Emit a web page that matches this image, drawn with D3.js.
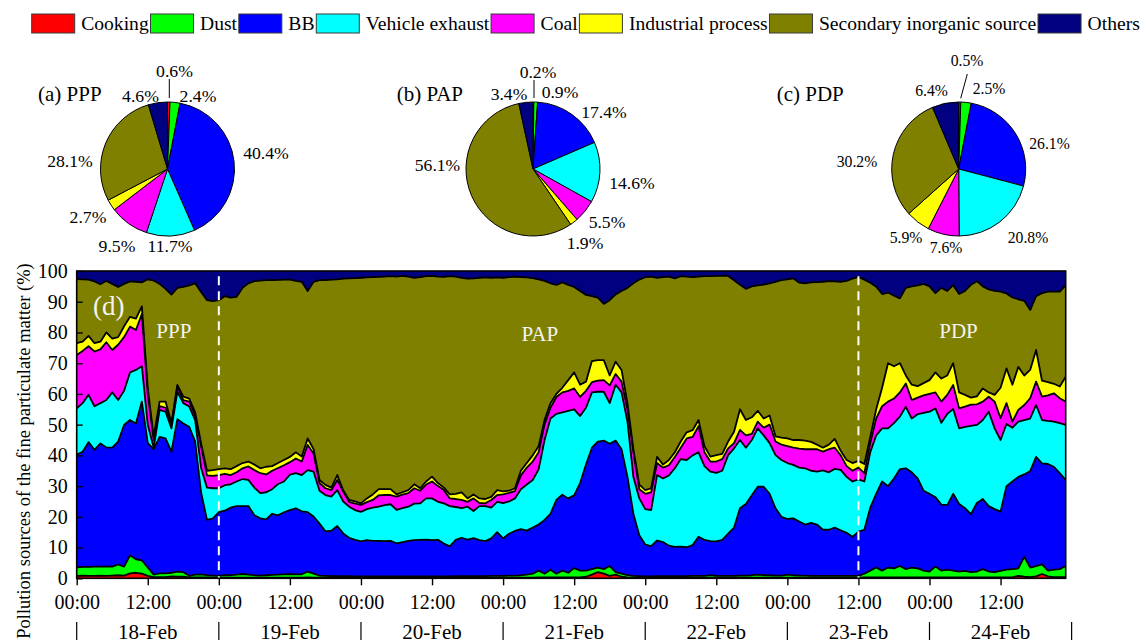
<!DOCTYPE html>
<html>
<head>
<meta charset="utf-8">
<script src="https://cdn.jsdelivr.net/npm/d3@7"></script>
<style>
  body { margin: 0; background: #fff; }
  svg { display: block; font-family: "Liberation Serif", "Times New Roman", Times, serif; }
</style>
</head>
<body>
<svg id="chart" width="1145" height="642"></svg>
<script>
// ---- Source categories ----
const sources = ["Cooking", "Dust", "BB", "Vehicle exhaust", "Coal",
  "Industrial process", "Secondary inorganic source", "Others"];
const colors = ["#ff0000", "#00ff00", "#0000ff", "#00ffff", "#ff00ff",
  "#ffff00", "#808000", "#000080"];

// ---- Period averages (%) for the three pie charts ----
const pieTitles = ["(a) PPP", "(b) PAP", "(c) PDP"];
const pppShare = [0.6, 2.4, 40.4, 11.7, 9.5, 2.7, 28.1, 4.6];
const papShare = [0.2, 0.9, 17.4, 14.6, 5.5, 1.9, 56.1, 3.4];
const pdpShare = [0.5, 2.5, 26.1, 20.8, 7.6, 5.9, 30.2, 6.4];

// ---- Axis labels ----
const clockLabels = ["00:00", "12:00"];
const dayLabels = ["18-Feb", "19-Feb", "20-Feb", "21-Feb", "22-Feb", "23-Feb", "24-Feb"];
const periodNames = ["PPP", "PAP", "PDP"];

// ---- Hourly source contributions (%), 18-Feb 00:00 to 24-Feb 23:00 ----
const cooking = [
  0.8,0.9,0.8,0.8,0.9,0.8,0.9,1.0,0.9,1.6,1.8,1.5,
  0.8,0.4,0.4,0.4,0.6,0.5,0.5,0.3,0.3,0.3,0.3,0.2,
  0.2,0.2,0.2,0.2,0.2,0.2,0.2,0.2,0.2,0.2,0.2,0.2,
  0.2,0.2,0.2,0.3,0.2,0.2,0.2,0.2,0.2,0.2,0.2,0.2,
  0.2,0.2,0.2,0.2,0.2,0.2,0.2,0.2,0.2,0.2,0.2,0.2,
  0.2,0.2,0.2,0.2,0.2,0.2,0.2,0.2,0.2,0.2,0.2,0.2,
  0.2,0.2,0.2,0.2,0.2,0.2,0.3,0.3,0.3,0.3,0.3,0.3,
  0.3,0.3,0.5,1.2,2.0,1.5,0.8,1.2,0.5,0.3,0.2,0.2,
  0.2,0.2,0.2,0.2,0.2,0.2,0.2,0.2,0.2,0.2,0.2,0.2,
  0.2,0.2,0.2,0.2,0.2,0.2,0.2,0.2,0.2,0.2,0.2,0.2,
  0.2,0.2,0.2,0.2,0.2,0.2,0.2,0.2,0.2,0.2,0.2,0.2,
  0.2,0.3,0.3,0.3,0.3,0.3,0.3,0.3,0.3,0.3,0.3,0.3,
  0.3,0.3,0.3,0.3,0.3,0.3,0.3,0.3,0.3,0.3,0.3,0.3,
  0.3,0.3,0.3,0.8,0.5,0.4,0.6,1.4,0.6,0.4,0.4,0.4
];
const dust = [
  2.8,2.8,2.9,3.0,2.9,3.1,2.9,3.5,2.9,5.9,4.4,4.3,
  2.7,0.8,1.2,1.2,1.2,1.7,1.5,0.5,0.9,1.0,0.7,0.7,
  0.6,0.8,0.8,1.0,1.2,1.0,0.8,0.7,0.8,0.9,1.0,1.1,
  1.2,1.1,1.1,1.9,1.3,0.7,0.6,0.5,0.5,0.5,0.5,0.4,
  0.4,0.4,0.4,0.4,0.4,0.4,0.4,0.4,0.4,0.4,0.4,0.4,
  0.4,0.4,0.4,0.4,0.5,0.5,0.5,0.5,0.5,0.5,0.6,0.6,
  0.6,0.7,0.7,0.8,1.0,1.3,2.2,1.2,2.5,1.2,2.2,1.5,
  3.0,2.2,2.0,1.8,1.5,1.5,3.2,0.8,1.0,0.7,0.6,0.5,
  0.4,0.4,0.5,0.5,0.5,0.5,0.5,0.5,0.6,0.6,0.6,0.8,
  0.6,0.6,0.6,0.6,0.7,0.7,0.8,1.0,0.8,0.8,0.7,0.7,
  1.0,0.8,0.7,0.7,0.6,0.6,0.6,0.6,0.6,0.6,0.6,0.6,
  0.6,1.2,2.2,3.2,2.2,3.2,2.9,3.7,2.7,3.2,2.9,2.2,
  1.9,3.5,2.2,2.5,2.2,1.9,2.1,1.7,1.9,2.7,1.9,1.7,
  2.1,2.5,2.7,2.4,6.5,3.1,3.4,3.1,1.9,2.4,2.6,3.6
];
const bb = [
  36.7,37.5,40.6,38.0,40.1,38.7,38.7,40.0,46.1,44.0,44.2,51.7,
  40.5,40.8,44.4,43.9,39.4,49.6,48.4,48.5,43.3,26.7,18.0,18.6,
  20.7,21.0,22.0,22.3,22.1,22.3,19.5,18.6,18.2,19.9,19.3,20.2,
  20.8,21.5,20.5,19.3,18.6,16.9,14.5,14.8,16.3,13.9,12.5,11.9,
  11.4,11.8,11.6,11.6,11.5,11.6,10.8,11.2,11.6,11.8,11.9,12.0,
  11.8,11.9,10.7,9.8,11.8,12.5,11.9,12.4,11.7,11.4,12.2,14.2,
  12.2,13.6,14.5,15.0,14.3,15.0,15.0,17.5,18.2,24.0,24.7,24.2,
  23.7,28.5,34.5,39.5,41.0,41.8,39.8,42.8,40.5,32.0,20.2,13.3,
  10.4,9.9,11.6,11.1,9.9,9.5,9.6,9.4,10.0,12.7,11.7,11.1,
  11.2,11.7,13.7,15.7,21.9,23.3,26.0,28.6,28.8,26.5,21.9,19.1,
  18.1,18.5,17.6,16.6,17.2,16.7,15.0,15.0,15.7,14.8,14.0,12.7,
  14.4,14.3,20.5,24.0,29.0,26.5,29.3,31.5,32.8,31.0,29.3,26.0,
  25.3,22.6,21.5,21.0,25.0,22.0,20.4,18.9,22.3,22.8,21.3,20.5,
  19.3,27.2,28.5,29.8,26.8,31.4,35.5,32.9,34.7,33.5,31.2,28.0
];
const vehicle = [
  15.0,15.8,15.4,14.2,13.1,15.4,18.0,13.5,11.1,15.5,17.4,11.5,
  6.0,0.5,8.8,8.7,7.6,8.9,6.6,6.6,7.0,8.0,10.5,9.8,
  7.8,8.3,7.6,8.0,8.8,8.5,9.0,8.2,8.8,8.0,10.2,10.0,
  11.5,11.4,11.8,13.7,14.6,10.7,11.8,11.1,11.7,10.4,10.1,9.7,
  9.6,10.1,10.8,11.1,11.7,11.9,10.9,11.0,11.1,11.9,11.9,13.4,
  13.6,12.4,13.1,13.1,10.7,9.6,10.7,8.8,11.1,11.4,10.0,9.9,
  11.5,10.5,10.6,13.0,15.0,15.5,18.0,26.0,31.0,28.0,26.8,28.5,
  28.0,21.8,18.5,18.0,16.2,15.9,13.2,18.2,18.5,18.0,12.0,12.0,
  11.5,11.7,21.3,20.7,22.9,25.6,28.5,28.4,29.2,27.5,24.0,22.6,
  22.3,22.5,25.6,25.8,22.2,18.3,18.0,19.0,16.7,16.5,17.3,18.5,
  18.2,17.4,17.5,18.3,17.0,17.2,19.3,18.7,19.1,19.7,18.2,18.0,
  17.0,15.7,18.0,19.0,17.3,18.8,18.0,17.1,20.0,17.5,20.9,25.3,
  26.7,28.9,26.6,29.7,27.6,24.6,26.5,28.7,25.4,25.7,30.7,26.3,
  23.3,20.2,17.5,18.0,17.7,17.1,16.9,14.1,14.0,14.7,16.3,17.9
];
const coal = [
  17.4,17.0,15.8,17.8,17.5,18.8,13.8,18.0,17.5,14.9,13.0,17.0,
  10.0,2.5,1.2,1.3,1.2,1.8,1.0,1.6,1.5,7.0,4.0,4.0,
  4.3,3.7,3.0,3.0,3.5,4.4,5.7,6.5,5.8,6.0,5.2,5.3,
  4.1,4.8,4.4,8.2,5.8,2.5,2.2,2.1,3.3,3.2,1.6,2.1,
  2.3,2.3,2.5,3.7,3.3,3.0,4.3,4.4,4.4,5.0,4.1,4.5,
  5.5,5.1,4.3,2.5,2.6,2.7,1.6,4.1,1.0,0.9,2.5,2.2,
  2.8,2.8,2.4,4.5,5.5,6.0,5.5,5.0,3.5,5.5,6.5,6.5,
  6.8,6.2,5.5,3.3,3.6,3.8,5.8,3.5,3.5,4.0,8.0,3.0,
  5.0,5.8,3.9,3.5,3.3,3.7,3.7,7.0,6.0,8.5,4.5,3.3,
  3.7,3.8,2.2,1.7,3.3,4.0,2.0,2.2,2.5,6.0,4.4,5.0,
  5.5,5.6,6.2,6.2,7.0,7.3,6.1,7.5,6.9,4.7,3.5,3.5,
  3.8,2.7,3.0,5.5,7.2,8.7,8.0,7.9,7.6,6.0,5.4,5.7,
  5.8,5.2,6.9,6.2,7.8,6.5,6.6,6.9,6.7,6.0,4.9,8.7,
  7.1,6.8,2.0,3.8,4.9,6.6,7.6,7.6,8.3,9.2,8.1,7.6
];
const industrial = [
  3.8,3.0,3.4,2.7,2.5,3.2,3.7,2.5,3.5,3.2,3.7,2.5,
  2.0,1.0,1.5,2.0,0.5,0.4,1.1,1.0,1.0,1.0,1.5,1.9,
  1.9,1.8,1.9,2.0,1.7,1.6,1.8,1.6,2.5,1.5,1.6,1.7,
  1.7,2.0,1.6,2.1,1.5,1.0,1.1,0.8,1.6,0.5,0.6,0.7,
  0.5,1.2,1.8,2.0,1.9,1.9,0.7,0.8,1.0,1.3,0.8,1.0,
  1.6,1.0,0.8,1.3,1.7,2.5,1.1,1.3,1.5,1.4,1.0,1.6,
  1.0,0.7,0.9,1.5,1.5,2.0,2.0,1.5,1.5,1.0,1.5,3.5,
  5.2,4.0,3.0,6.9,6.7,6.5,3.2,4.0,3.8,2.0,1.0,1.5,
  1.2,1.3,2.0,1.0,1.7,1.5,2.0,2.0,2.2,2.0,2.0,1.6,
  2.1,1.7,2.2,3.7,6.7,5.0,5.4,3.5,3.0,3.0,1.7,2.3,
  2.5,2.5,2.8,2.8,2.4,1.5,1.3,1.5,2.9,1.5,2.0,2.5,
  2.2,3.0,2.0,3.0,6.0,12.5,10.5,9.5,2.6,5.0,3.7,4.0,
  4.5,6.5,7.5,6.3,7.1,5.2,3.8,2.3,2.6,4.3,1.4,2.2,
  9.9,11.3,12.0,14.0,9.6,9.2,10.3,5.2,4.3,3.1,3.8,8.1
];
const secondary = [
  20.9,20.3,18.3,20.1,18.7,16.8,17.8,16.3,13.8,11.5,12.0,7.8,
  35.3,50.9,38.3,36.7,41.8,31.6,35.7,36.8,42.0,49.2,55.5,55.0,
  55.0,56.0,55.8,55.1,57.0,58.0,59.7,61.1,60.7,60.5,59.6,58.7,
  57.7,55.8,56.9,48.0,54.5,65.0,66.6,67.7,63.7,68.8,72.1,72.7,
  73.4,71.9,70.7,69.1,69.2,69.3,70.9,70.4,69.5,67.2,68.7,66.8,
  65.3,67.2,68.6,71.0,70.7,69.8,71.5,70.3,71.8,72.1,71.3,69.2,
  69.5,69.5,68.9,63.0,60.4,57.7,54.3,45.3,39.0,35.5,34.3,31.0,
  27.8,30.5,28.2,21.1,20.3,18.3,24.5,21.9,25.7,37.5,54.0,66.7,
  69.3,68.9,58.3,61.0,59.7,56.6,53.8,50.7,49.8,46.7,55.3,58.7,
  58.3,58.0,53.9,49.3,40.5,42.7,42.6,40.8,43.6,43.0,50.3,51.2,
  51.8,52.6,51.2,51.2,51.9,52.9,54.0,53.2,51.2,55.0,58.3,60.0,
  59.9,60.0,50.2,39.9,30.5,23.0,23.0,21.1,28.5,32.0,32.8,32.3,
  30.5,25.8,29.5,27.5,25.4,32.0,33.8,36.7,37.5,33.2,33.5,33.8,
  31.3,24.4,28.4,22.0,24.3,19.5,17.5,28.5,29.5,30.0,30.9,29.8
];
const others = [
  2.6,2.7,2.8,3.4,4.3,3.2,4.2,5.2,4.2,3.4,3.5,3.7,
  2.7,3.1,4.2,5.8,7.7,5.5,5.2,4.7,4.0,6.8,9.5,9.8,
  9.5,8.2,8.7,8.4,5.5,4.0,3.3,3.1,3.0,3.0,2.9,2.8,
  2.8,3.2,3.5,6.5,3.5,3.0,3.0,2.8,2.7,2.5,2.4,2.3,
  2.2,2.1,2.0,1.9,1.8,1.7,1.8,1.6,1.8,2.2,2.0,1.7,
  1.6,1.8,1.9,1.7,1.8,2.2,2.5,2.4,2.2,2.1,2.2,2.1,
  2.2,2.0,1.8,2.0,2.1,2.3,2.7,3.2,4.0,4.5,3.7,4.5,
  5.2,6.5,7.8,8.2,8.7,10.7,9.5,7.6,6.5,5.5,4.0,2.8,
  2.0,1.8,2.2,2.0,1.8,2.4,1.7,1.8,2.0,1.8,1.7,1.7,
  1.6,1.5,1.6,3.0,4.5,5.8,5.0,4.7,4.4,4.0,3.5,3.0,
  2.7,2.4,3.8,4.0,3.7,3.6,3.5,3.3,3.4,3.5,3.2,2.5,
  1.9,2.8,3.8,5.1,7.5,7.0,8.0,8.9,5.5,5.0,4.7,4.2,
  5.0,7.2,5.5,6.5,4.6,7.5,6.5,4.5,3.3,5.0,6.0,6.5,
  6.7,7.3,8.6,9.2,9.7,12.7,8.2,7.2,6.7,6.7,6.7,4.6
];
// Period boundaries (hours from 18-Feb 00:00)
const periodBreaks = [24, 132];

// ---------------------------------------------------------------
const svg = d3.select("#chart");
const serif = '"Liberation Serif", "Times New Roman", Times, serif';

// ---- Legend ----
const legend = svg.append("g");
let lx = 31.7;
sources.forEach((name, i) => {
  legend.append("rect")
    .attr("x", lx).attr("y", 14).attr("width", 43).attr("height", 19)
    .attr("fill", colors[i]).attr("stroke", "#3a3a3a").attr("stroke-width", 1);
  const t = legend.append("text")
    .attr("x", lx + 49.5).attr("y", 30.3)
    .attr("font-size", 19.6).attr("fill", "#000")
    .text(name);
  lx = lx + 49.5 + t.node().getComputedTextLength() + 1.8;
});

// ---- Pie charts ----
const pieLayout = [
  { cx: 167.5, cy: 169, titleX: 38, size: 17.7,
    labels: [[7,-92.3],[30.5,-67.3],[98.5,-9.7],[2.5,83],[-50.5,83],[-79.5,54.3],[-97.5,-1.7],[-27,-67.3]],
    leader: [[1.8,-90],[1.8,-71]] },
  { cx: 533, cy: 169, titleX: 396.7, size: 17.6,
    labels: [[5,-91],[27,-70.7],[71,-50.7],[99,20.3],[74,58.7],[52,80],[-95.5,1.7],[-24,-69]],
    leader: [[1,-89],[1,-71]] },
  { cx: 958.7, cy: 169, titleX: 776.7, size: 15.7,
    labels: [[8.3,-103],[30.3,-75],[90.8,-19.7],[69.3,73.7],[-12.7,84],[-52.7,73.7],[-101.7,-1.7],[-27.2,-73]],
    leader: [[8.6,-95],[2,-70.7]] }
];
const shares = [pppShare, papShare, pdpShare];
const pie = d3.pie().sort(null).value(d => d).startAngle(0).endAngle(2 * Math.PI);
const arc = d3.arc().innerRadius(0).outerRadius(67);

shares.forEach((vals, p) => {
  const L = pieLayout[p];
  const g = svg.append("g").attr("transform", `translate(${L.cx},${L.cy})`);
  g.selectAll("path").data(pie(vals)).join("path")
    .attr("d", arc)
    .attr("fill", (d, i) => colors[i])
    .attr("stroke", "#000").attr("stroke-width", 1).attr("stroke-linejoin", "round");
  g.selectAll("text.pct").data(vals).join("text")
    .attr("class", "pct")
    .attr("x", (d, i) => L.labels[i][0]).attr("y", (d, i) => L.labels[i][1])
    .attr("text-anchor", "middle").attr("font-size", L.size)
    .text(d => d.toFixed(1) + "%");
  g.append("line")
    .attr("x1", L.leader[0][0]).attr("y1", L.leader[0][1])
    .attr("x2", L.leader[1][0]).attr("y2", L.leader[1][1])
    .attr("stroke", "#000").attr("stroke-width", 1);
  svg.append("text")
    .attr("x", L.titleX).attr("y", 100.7)
    .attr("font-size", 21).text(pieTitles[p]);
});

// ---- Stacked area time series ----
const hours = d3.range(cooking.length);
const series = [cooking, dust, bb, vehicle, coal, industrial, secondary, others];
const rows = hours.map(i => {
  const r = { h: i };
  sources.forEach((s, k) => { r[s] = series[k][i]; });
  return r;
});
const stacked = d3.stack().keys(sources)(rows);

const x = d3.scaleLinear().domain([0, hours.length - 1]).range([76.7, 1065.7]);
const y = d3.scaleLinear().domain([0, 100]).range([578.3, 271]);

svg.append("defs").append("clipPath").attr("id", "plotClip")
  .append("rect")
  .attr("x", x(0)).attr("y", y(100))
  .attr("width", x(hours.length - 1) - x(0)).attr("height", y(0) - y(100));

const plot = svg.append("g").attr("clip-path", "url(#plotClip)");

const area = d3.area()
  .x(d => x(d.data.h)).y0(d => y(d[0])).y1(d => y(d[1]));
plot.selectAll("path.layer").data(stacked).join("path")
  .attr("class", "layer")
  .attr("d", area)
  .attr("fill", (d, i) => colors[i])
  .attr("stroke", (d, i) => colors[i]).attr("stroke-width", 0.5);

const topLine = d3.line().x(d => x(d.data.h)).y(d => y(d[1]));
plot.selectAll("path.edge").data(stacked.slice(0, sources.length - 1)).join("path")
  .attr("class", "edge")
  .attr("d", topLine)
  .attr("fill", "none").attr("stroke", "#000")
  .attr("stroke-width", 1.8).attr("stroke-linejoin", "round");

// Period separators
plot.selectAll("line.brk").data(periodBreaks).join("line")
  .attr("class", "brk")
  .attr("x1", d => x(d)).attr("x2", d => x(d))
  .attr("y1", y(98.3)).attr("y2", y(0))
  .attr("stroke", "#fff").attr("stroke-width", 2).attr("stroke-dasharray", "9,6");

// Period names and panel tag
const periodAt = [16.4, 78.2, 148.9];
const periodY = [338, 341, 338];
plot.selectAll("text.period").data(periodNames).join("text")
  .attr("class", "period")
  .attr("x", (d, i) => x(periodAt[i])).attr("y", (d, i) => periodY[i])
  .attr("text-anchor", "middle").attr("font-size", 21).attr("fill", "#f4f4f4")
  .text(d => d);
plot.append("text")
  .attr("x", 93).attr("y", 315)
  .attr("font-size", 27).attr("fill", "#f4f4f4").text("(d)");

// Frame
svg.append("rect")
  .attr("x", x(0)).attr("y", y(100))
  .attr("width", x(hours.length - 1) - x(0)).attr("height", y(0) - y(100))
  .attr("fill", "none").attr("stroke", "#000").attr("stroke-width", 1.6);

// Axes
const yAxis = d3.axisLeft(y).tickValues(d3.range(0, 101, 10))
  .tickSizeInner(-6).tickSizeOuter(0).tickPadding(9);
const gy = svg.append("g").attr("transform", `translate(${x(0)},0)`).call(yAxis);
gy.select(".domain").remove();
gy.selectAll("line").attr("stroke", "#000").attr("stroke-width", 1.4);
gy.selectAll("text").attr("font-size", 20).attr("font-family", serif).attr("fill", "#000");

const xAxis = d3.axisBottom(x).tickValues(d3.range(0, hours.length, 12))
  .tickSizeInner(7).tickSizeOuter(0).tickPadding(10)
  .tickFormat(h => clockLabels[(h / 12) % 2]);
const gx = svg.append("g").attr("transform", `translate(0,${y(0)})`).call(xAxis);
gx.select(".domain").remove();
gx.selectAll("line").attr("stroke", "#000").attr("stroke-width", 1.4);
gx.selectAll("text").attr("font-size", 20).attr("font-family", serif).attr("fill", "#000");

// Day row
const dayStarts = d3.range(0, dayLabels.length + 1).map(d => d * 24);
svg.selectAll("line.day").data(dayStarts).join("line")
  .attr("class", "day")
  .attr("x1", d => x(d)).attr("x2", d => x(d))
  .attr("y1", 622).attr("y2", 640)
  .attr("stroke", "#000").attr("stroke-width", 1.2);
svg.selectAll("text.day").data(dayLabels).join("text")
  .attr("class", "day")
  .attr("x", (d, i) => x(i * 24 + 12)).attr("y", 638.5)
  .attr("text-anchor", "middle").attr("font-size", 21)
  .text(d => d);

// Y title
svg.append("text")
  .attr("transform", "translate(29.5,451) rotate(-90)")
  .attr("text-anchor", "middle").attr("font-size", 18.5)
  .text("Pollution sources of the fine particulate matter (%)");
</script>
</body>
</html>
